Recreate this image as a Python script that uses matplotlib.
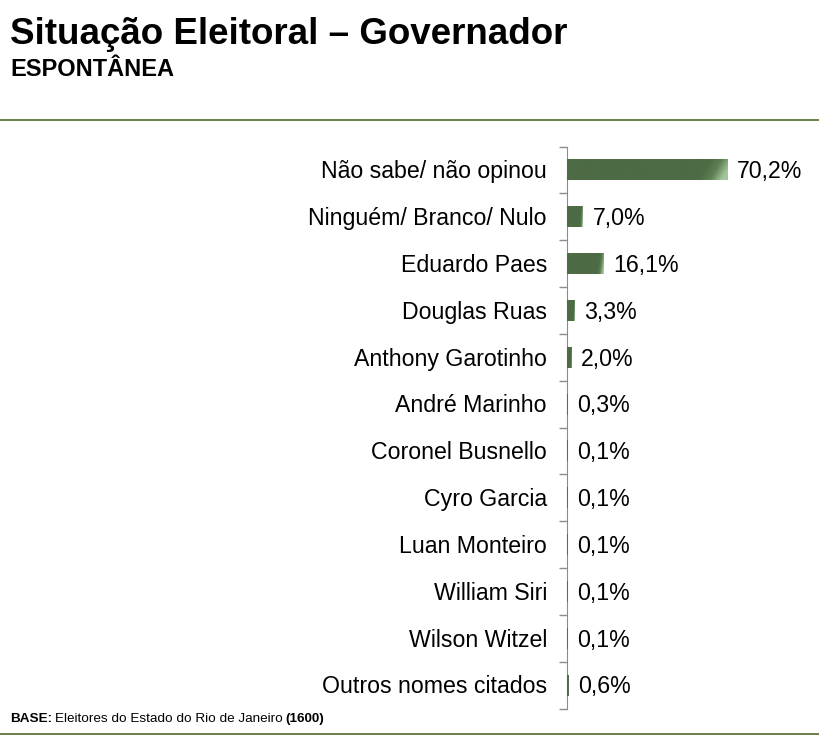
import numpy as np
import matplotlib
matplotlib.use("Agg")
import matplotlib.pyplot as plt
from matplotlib.colors import LinearSegmentedColormap

plt.rcParams['font.family'] = ['Liberation Sans', 'DejaVu Sans']

categories = ["Não sabe/ não opinou", "Ninguém/ Branco/ Nulo", "Eduardo Paes",
              "Douglas Ruas", "Anthony Garotinho", "André Marinho",
              "Coronel Busnello", "Cyro Garcia", "Luan Monteiro",
              "William Siri", "Wilson Witzel", "Outros nomes citados"]
values = [70.2, 7.0, 16.1, 3.3, 2.0, 0.3, 0.1, 0.1, 0.1, 0.1, 0.1, 0.6]
value_labels = ["70,2%", "7,0%", "16,1%", "3,3%", "2,0%", "0,3%",
                "0,1%", "0,1%", "0,1%", "0,1%", "0,1%", "0,6%"]

fig = plt.figure(figsize=(8.2, 7.53), dpi=100)

# header
fig.text(10 / 820, 1 - 35 / 753, "Situação Eleitoral – Governador",
         fontsize=26.5, fontweight='bold', va='center', ha='left')
fig.text(10 / 820, 1 - 69 / 753, "ESPONTÂNEA",
         fontsize=17, fontweight='bold', va='center', ha='left')
fig.add_artist(plt.Line2D([0, 1], [1 - 120 / 753] * 2, color='#4f6b2e', lw=1.2))
fig.add_artist(plt.Line2D([0, 1], [1 - 734 / 753] * 2, color='#4f6b2e', lw=1.2))

# footer
narrow = ['Liberation Sans Narrow', 'Liberation Sans']
base_y = 1 - 719 / 753
t1 = fig.text(10 / 820, base_y, "BASE:", fontsize=9.7, fontweight='bold',
              va='center', ha='left', family=narrow)
fig.canvas.draw()
bb = t1.get_window_extent()
t2 = fig.text(bb.x1 / 820 + 3 / 820, base_y, "Eleitores do Estado do Rio de Janeiro",
              fontsize=9.7, va='center', ha='left', family=narrow)
fig.canvas.draw()
bb2 = t2.get_window_extent()
fig.text(bb2.x1 / 820 + 3 / 820, base_y, "(1600)", fontsize=9.7, fontweight='bold',
         va='center', ha='left', family=narrow)

# chart
ax = fig.add_axes([567 / 820, 1 - 708.5 / 753, 253 / 820, 562 / 753])
n = len(categories)
y = np.arange(n)
bars = ax.barh(y, values, height=0.45, color='#4d6b45', edgecolor='none')

cmap = LinearSegmentedColormap.from_list('g', ['#4d6b45', '#4d6b45', '#5f8055', '#a3c79a'])
for b in bars:
    x0, y0 = b.get_x(), b.get_y()
    w, h = b.get_width(), b.get_height()
    if w <= 0:
        continue
    gx = np.linspace(0, 1, 200)
    gy = np.linspace(0, 1, 20)
    grad = np.clip((gx[None, :] - 0.82) / 0.18 * 0.8 + gy[:, None] * 0.35, 0, 1)
    grad = np.where(gx[None, :] < 0.82, 0, grad)
    im = ax.imshow(grad, extent=[x0, x0 + w, y0 + h, y0], cmap=cmap, vmin=0, vmax=1,
                   aspect='auto', interpolation='bilinear', zorder=3)
    im.set_clip_path(b)

for yi, v, lab in zip(y, values, value_labels):
    ax.text(v + 4.3, yi + 0.04, lab, va='center', ha='left', fontsize=16.7)

ax.set_xlim(0, 111)
ax.set_ylim(n - 0.5, -0.5)
ax.set_yticks(np.arange(n + 1) - 0.5)
ax.set_yticklabels([])
ax.tick_params(axis='y', direction='out', length=6, color='#8c8c8c', width=1)
ax.set_xticks([])
for s in ['top', 'right', 'bottom']:
    ax.spines[s].set_visible(False)
ax.spines['left'].set_color('#8c8c8c')
ax.patch.set_alpha(0)

for yi, c in zip(y, categories):
    ax.text(-8.8, yi + 0.04, c, va='center', ha='right', fontsize=16.7)

fig.savefig("out.png", dpi=100)
